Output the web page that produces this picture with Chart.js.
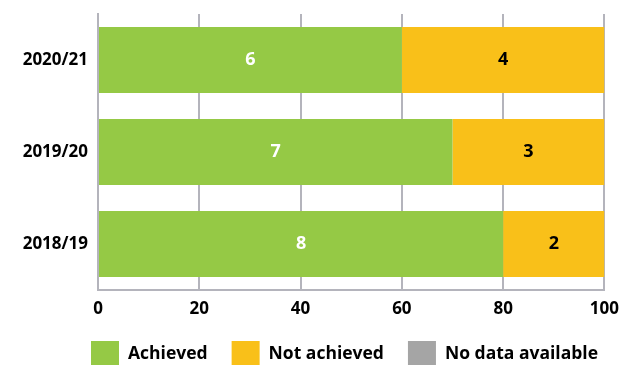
<!DOCTYPE html>
<html>
<head>
<meta charset="utf-8">
<script src="https://cdn.jsdelivr.net/npm/chart.js@4.4.0/dist/chart.umd.min.js"></script>
<style>
    html, body { margin: 0; padding: 0; background: #fff; }
    #wrap { width: 628px; height: 365px; position: relative; }
</style>
</head>
<body>
<div id="wrap"><canvas id="targetsChart"></canvas></div>
<script>
// Targets per year (out of 10), shown on a percentage axis
const years = ['2020/21', '2019/20', '2018/19'];
const achieved = [6, 7, 8];
const notAchieved = [4, 3, 2];
const noData = [0, 0, 0];
const totalTargets = 10;
const tickLabels = ['0', '20', '40', '60', '80', '100'];

const FONT = '"Open Sans", sans-serif';

// Writes the count in the middle of each bar segment
const segmentLabels = {
    id: 'segmentLabels',
    afterDatasetsDraw(chart) {
        const ctx = chart.ctx;
        ctx.save();
        ctx.font = 'bold 18px ' + FONT;
        ctx.textAlign = 'center';
        ctx.textBaseline = 'middle';
        chart.data.datasets.forEach((ds, i) => {
            const meta = chart.getDatasetMeta(i);
            if (meta.hidden) return;
            meta.data.forEach((bar, j) => {
                const v = ds.data[j];
                if (!v) return;
                const p = bar.getProps(['x', 'y', 'base'], true);
                ctx.fillStyle = ds.labelColor;
                ctx.fillText(String(v), (p.x + p.base) / 2, p.y);
            });
        });
        ctx.restore();
    }
};

// Key row under the axis: square swatch, then the series name
const bottomKey = {
    id: 'bottomKey',
    afterDraw(chart) {
        const ctx = chart.ctx;
        const box = 28, gap = 9, spacing = 24;
        let x = chart.chartArea.left - 7;
        const top = 341;
        ctx.save();
        ctx.font = 'bold 17.5px ' + FONT;
        ctx.textBaseline = 'middle';
        ctx.textAlign = 'left';
        chart.data.datasets.forEach(ds => {
            ctx.fillStyle = ds.backgroundColor;
            ctx.fillRect(x, top, box, 24);
            ctx.fillStyle = '#000';
            ctx.fillText(ds.label, x + box + gap, top + 13);
            x += box + gap + ctx.measureText(ds.label).width + spacing;
        });
        ctx.restore();
    }
};

new Chart(document.getElementById('targetsChart'), {
    type: 'bar',
    data: {
        labels: years,
        datasets: [
            { label: 'Achieved', data: achieved, backgroundColor: '#95c945', labelColor: '#ffffff' },
            { label: 'Not achieved', data: notAchieved, backgroundColor: '#f9c019', labelColor: '#000000' },
            { label: 'No data available', data: noData, backgroundColor: '#a5a5a5', labelColor: '#000000' }
        ]
    },
    options: {
        indexAxis: 'y',
        responsive: true,
        maintainAspectRatio: false,
        animation: false,
        layout: { padding: { top: 14, right: 23, left: 8, bottom: 0 } },
        datasets: {
            bar: { categoryPercentage: 0.717, barPercentage: 1, borderWidth: 0 }
        },
        plugins: {
            tooltip: { enabled: false },
            legend: { display: false }
        },
        scales: {
            x: {
                stacked: true,
                min: 0,
                max: totalTargets,
                afterFit: scale => { scale.height = 75; },
                ticks: {
                    stepSize: 2,
                    padding: 9,
                    color: '#000',
                    font: { family: FONT, size: 17, weight: 'bold' },
                    callback: (v, i) => tickLabels[i]
                },
                grid: { color: '#b4b4bc', lineWidth: 2, drawTicks: false },
                border: { color: '#b4b4bc', width: 2 }
            },
            y: {
                stacked: true,
                afterFit: scale => {
                    scale.width = 90;
                    scale.paddingTop = 0;
                    scale.paddingBottom = 0;
                },
                ticks: {
                    padding: 10,
                    color: '#000',
                    font: { family: FONT, size: 17, weight: 'bold' }
                },
                grid: { display: false, drawTicks: false },
                border: { color: '#b4b4bc', width: 2 }
            }
        }
    },
    plugins: [segmentLabels, bottomKey]
});
</script>
</body>
</html>
